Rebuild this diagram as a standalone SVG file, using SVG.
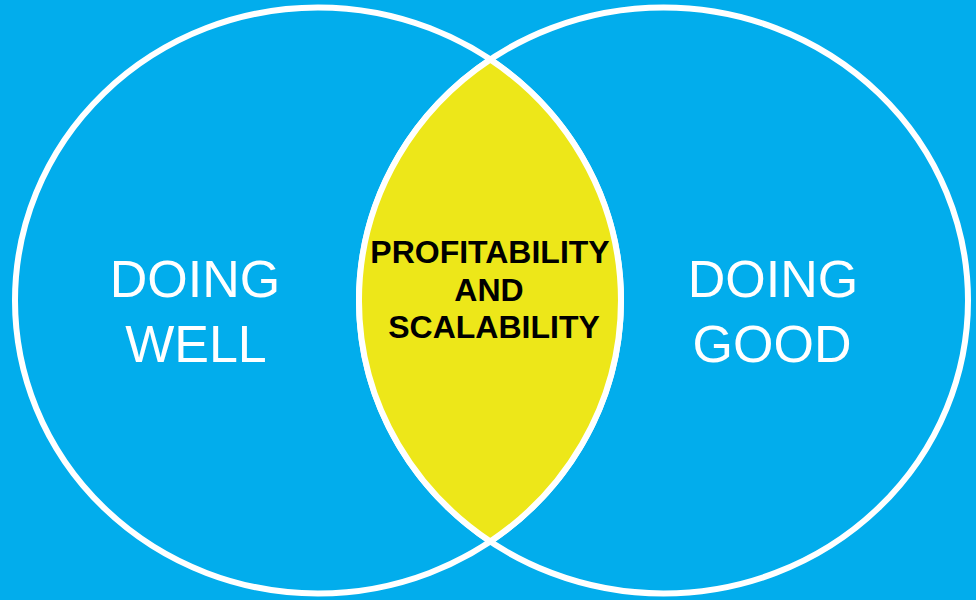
<svg xmlns="http://www.w3.org/2000/svg" width="976" height="600" viewBox="0 0 976 600">
<style>
.circle{fill:none;stroke:#ffffff;stroke-width:6}
.lens{fill:#EDE719;stroke:#ffffff;stroke-width:6}
.big{font-family:"Liberation Sans",Arial,Helvetica,sans-serif;font-size:52px;fill:#ffffff;text-anchor:middle}
.mid{font-family:"Liberation Sans",Arial,Helvetica,sans-serif;font-size:32px;font-weight:bold;fill:#000000;text-anchor:middle}
</style>
<rect x="0" y="0" width="976" height="600" fill="#02ADEC"/>
<g id="doing-well">
<ellipse class="circle" cx="318" cy="300.5" rx="303" ry="293"/>
<text class="big" x="195" y="297">DOING</text>
<text class="big" x="196" y="362">WELL</text>
</g>
<g id="doing-good">
<ellipse class="circle" cx="663.5" cy="300.5" rx="304.5" ry="293"/>
<text class="big" x="773" y="297">DOING</text>
<text class="big" x="772" y="362">GOOD</text>
</g>
<g id="overlap">
<path class="lens" d="M490.3,59.5 A304.5,293 0 0 0 490.3,541.5 A303,293 0 0 0 490.3,59.5 Z"/>
<text class="mid" x="490" y="263">PROFITABILITY</text>
<text class="mid" x="489" y="301">AND</text>
<text class="mid" x="494" y="338">SCALABILITY</text>
</g>
<g id="connectors"/>
</svg>
